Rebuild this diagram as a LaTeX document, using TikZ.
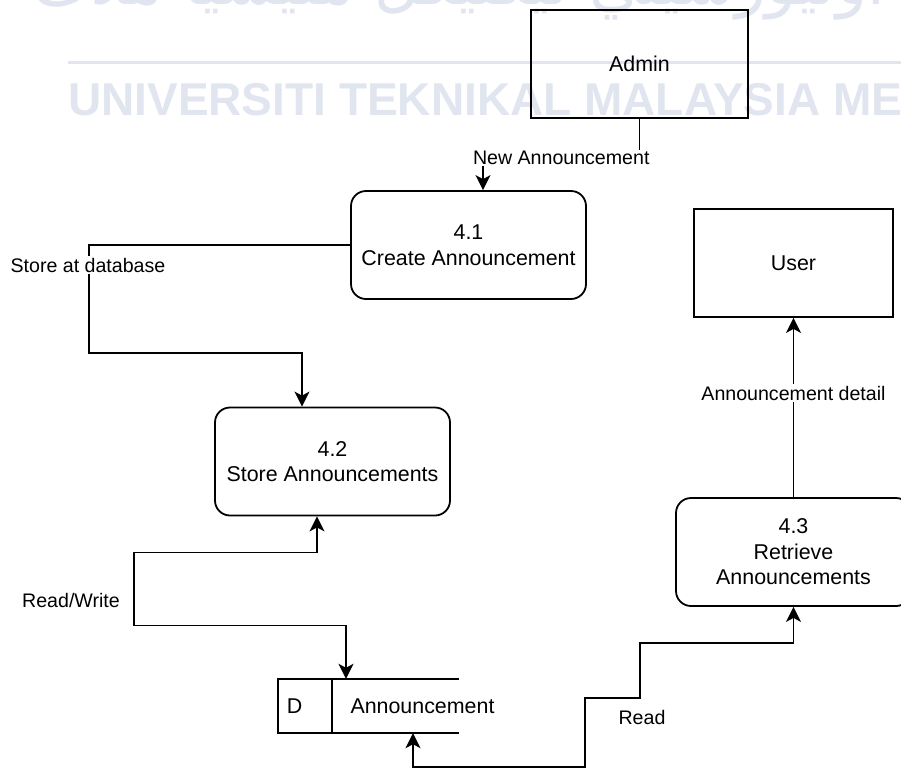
\documentclass[tikz,border=0pt]{standalone}
\usepackage{fontspec}
\setmainfont{Liberation Sans}
\newfontfamily\jawifont[Script=Arabic]{DejaVu Sans}
\TeXXeTstate=1
\usetikzlibrary{arrows.meta,calc}
\definecolor{wmark}{RGB}{224,229,239}
\begin{document}
\begin{tikzpicture}[x=1pt,y=-1pt,
  base/.style={font=\fontsize{21.4}{25.5}\selectfont, align=center, line width=1.8pt, draw=black, inner sep=0pt},
  entity/.style={base, rectangle, minimum width=217pt, minimum height=108pt},
  process/.style={base, rectangle, rounded corners=15pt, minimum width=235pt, minimum height=108pt, fill=white},
  storetext/.style={font=\fontsize{21.4}{25.5}\selectfont, inner sep=0pt},
  flowlabel/.style={font=\fontsize{19.6}{23}\selectfont, fill=white, inner sep=1.5pt},
  tip/.tip={Stealth[length=15pt,width=15pt,inset=4pt]},
  flow/.style={line width=1.8pt, -tip},
  biflow/.style={line width=1.8pt, tip-tip},
  storeline/.style={line width=1.8pt},
]
\useasboundingbox (0,0) rectangle (901,769);
\clip (0,0) rectangle (901,769);

% faint background watermark
\node[anchor=base east, text=wmark, font=\jawifont\fontsize{64}{64}\selectfont, inner sep=0pt] (wmjawi) at (885,4) {\beginR اونيورسيتي تيکنيکل مليسيا ملاک\endR};
\draw[wmark, line width=3pt] (68,62) -- (901,62);
\node[anchor=base west, text=wmark, font=\fontsize{46}{46}\selectfont\bfseries, inner sep=0pt] (wmtext) at (68,115) {UNIVERSITI TEKNIKAL MALAYSIA MELAKA};

% external entities and processes
\node[entity] (admin) at (639.5,64) {Admin};
\node[entity, minimum width=199pt] (user) at (793.5,263) {User};
\node[process] (p41) at (468.5,245) {4.1\\Create Announcement};
\node[process] (p42) at (332.5,461.5) {4.2\\Store Announcements};
\node[process] (p43) at (793.5,552) {4.3\\Retrieve\\Announcements};

% data store (open on the right)
\node[minimum width=181pt, minimum height=54pt, inner sep=0pt] (ds) at (368.5,706) {};
\draw[storeline] (ds.north east) -- (ds.north west) -- (ds.south west) -- (ds.south east);
\draw[storeline] ([xshift=54pt]ds.north west) -- ([xshift=54pt]ds.south west);
\node[storetext] (dsid) at (294.5,706) {D};
\node[storetext] (dsname) at (422.5,706) {Announcement};

% data flows
\draw[flow] (admin.south) -- ++(0,39) -| node[flowlabel, pos=0.25] (lnew) {New Announcement} ([xshift=14.5pt]p41.north);
\draw[flow] (p41.west) -| ++(-261,108) -| ([xshift=-30.5pt]p42.north);
\node[flowlabel] (lstore) at (88,265) {Store at database};
\draw[biflow] ([xshift=-15.5pt]p42.south) -- ++(0,36) -| ++(-183,73) -| ([xshift=-22.5pt]ds.north);
\node[flowlabel] (lrw) at (71,600) {Read/Write};
\draw[biflow] ([xshift=44.5pt]ds.south) -- ++(0,34) -| ++(172,-69) -| ++(55,-55) -| (p43.south);
\node[flowlabel] (lread) at (642,717) {Read};
\draw[flow] (p43.north) -- node[flowlabel, pos=0.58] (ldetail) {Announcement detail} (user.south);
\end{tikzpicture}
\end{document}
